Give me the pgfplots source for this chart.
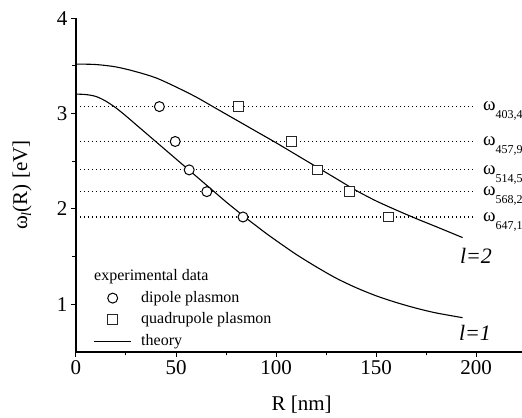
\documentclass[border=0pt]{standalone}
\usepackage{fontspec}
\setmainfont{Liberation Serif}
\usepackage{pgfplots}
\pgfplotsset{compat=1.18}
\pgfplotsset{
  marklegend/.style={legend image code/.code={\draw[##1] plot coordinates {(19pt,0pt)};}},
  linelegend/.style={legend image code/.code={\draw[##1] (0pt,0pt) -- (37pt,0pt);}},
}

\newcommand{\omlab}[2]{%
  \node[anchor=base west, inner sep=0pt, yshift=-4.3pt] at (axis cs:203.5,#1)
    {{\fontsize{19}{19}\selectfont ω}\raisebox{-8pt}{\fontsize{12}{12}\selectfont #2}};}

\begin{document}
\begin{tikzpicture}
\begin{axis}[
  at={(0pt,0pt)}, anchor=south west,
  scale only axis, width=446pt, height=333.7pt,
  xmin=0, xmax=223, ymin=0.5, ymax=4,
  axis lines*=left,
  axis line style={line width=1.2pt},
  tick align=outside, major tick length=5pt, minor tick length=3.5pt,
  tick style={black, line width=1pt},
  xtick={0,50,100,150,200}, minor xtick={25,75,125,175},
  ytick={1,2,3,4}, minor ytick={1.5,2.5,3.5},
  tick label style={font=\fontsize{21}{21}\selectfont},
  /pgf/number format/assume math mode=true,
  xlabel={R [nm]},
  ylabel={ω\raisebox{-4pt}{\fontsize{14}{14}\selectfont\itshape l}(R) [eV]},
  label style={font=\fontsize{21}{21}\selectfont},
  xlabel style={at={(axis description cs:0.506,-0.157)}, anchor=center},
  ylabel style={at={(axis description cs:-0.121,0.5)}, anchor=center},
  clip=false,
  legend cell align=left,
  legend style={draw=none, fill=none, at={(axis description cs:0.038,0.249)},
    anchor=north west, font=\fontsize{16}{16}\selectfont, inner sep=0pt,
    row sep=6.5pt, column sep=10pt,
    nodes={inner sep=0pt, text height=11.5pt, text depth=3.5pt}},
]
% photon energies of the laser lines
\addplot[forget plot, black, line width=1.1pt, dash pattern=on 1.1pt off 2.9pt] coordinates {(0,3.074) (198.5,3.074)};
\addplot[forget plot, black, line width=1.1pt, dash pattern=on 1.1pt off 2.9pt] coordinates {(0,2.708) (198.5,2.708)};
\addplot[forget plot, black, line width=1.1pt, dash pattern=on 1.1pt off 2.9pt] coordinates {(0,2.410) (198.5,2.410)};
\addplot[forget plot, black, line width=1.1pt, dash pattern=on 1.1pt off 2.9pt] coordinates {(0,2.182) (198.5,2.182)};
\addplot[forget plot, black, line width=1.1pt, dash pattern=on 1.1pt off 2.9pt] coordinates {(0,1.916) (198.5,1.916)};

% theory, l=1 and l=2
\addplot[forget plot, black, line width=1.1pt, smooth] coordinates {
  (0,3.205) (5,3.20) (10,3.18) (15,3.13) (20,3.06) (25,2.975) (30,2.885) (35,2.795)
  (40,2.705) (45,2.615) (50,2.525) (55,2.435) (60,2.345) (65,2.255) (70,2.165)
  (75,2.075) (80,1.99) (85,1.905) (90,1.825) (95,1.745) (100,1.67) (110,1.525)
  (120,1.395) (130,1.275) (140,1.175) (150,1.09) (160,1.02) (170,0.96) (180,0.91)
  (193.3,0.86)};
\addplot[forget plot, black, line width=1.1pt, smooth] coordinates {
  (0,3.52) (10,3.515) (20,3.49) (30,3.44) (40,3.375) (50,3.28) (60,3.175)
  (70,3.055) (80,2.935) (90,2.815) (100,2.695) (110,2.57) (120,2.445) (130,2.32)
  (140,2.195) (150,2.085) (160,1.99) (170,1.90) (180,1.815) (193.3,1.70)};

% experimental data
\addplot[forget plot, only marks, mark=*, mark size=5pt,
  mark options={fill=white, draw=black, line width=1pt}] coordinates {
  (41.7,3.074) (49.6,2.708) (56.6,2.410) (65.4,2.182) (83.5,1.916)};
\addplot[forget plot, only marks, mark=square*, mark size=4.7pt,
  mark options={fill=white, draw=black!85, line width=1pt}] coordinates {
  (81.2,3.074) (107.8,2.708) (120.7,2.410) (136.7,2.182) (156.3,1.916)};

% legend
\addlegendimage{empty legend}
\addlegendentry{\hspace*{-47pt}experimental data}
\addlegendimage{only marks, mark=*, mark size=5pt,
  mark options={fill=white, draw=black, line width=1pt}, marklegend}
\addlegendentry{dipole plasmon}
\addlegendimage{only marks, mark=square*, mark size=4.7pt,
  mark options={fill=white, draw=black!85, line width=1pt}, marklegend}
\addlegendentry{quadrupole plasmon}
\addlegendimage{black, line width=1.1pt, linelegend}
\addlegendentry{theory}

\omlab{3.074}{403,4}
\omlab{2.708}{457,9}
\omlab{2.410}{514,5}
\omlab{2.182}{568,2}
\omlab{1.916}{647,1}

\node[inner sep=0pt, font=\fontsize{22}{22}\selectfont\itshape] at (axis cs:200,1.508) {l=2};
\node[inner sep=0pt, font=\fontsize{22}{22}\selectfont\itshape] at (axis cs:199.5,0.70) {l=1};
\end{axis}
\pgfresetboundingbox
\path (-76pt,-65.3pt) rectangle (446pt,352pt);
\end{tikzpicture}
\end{document}
